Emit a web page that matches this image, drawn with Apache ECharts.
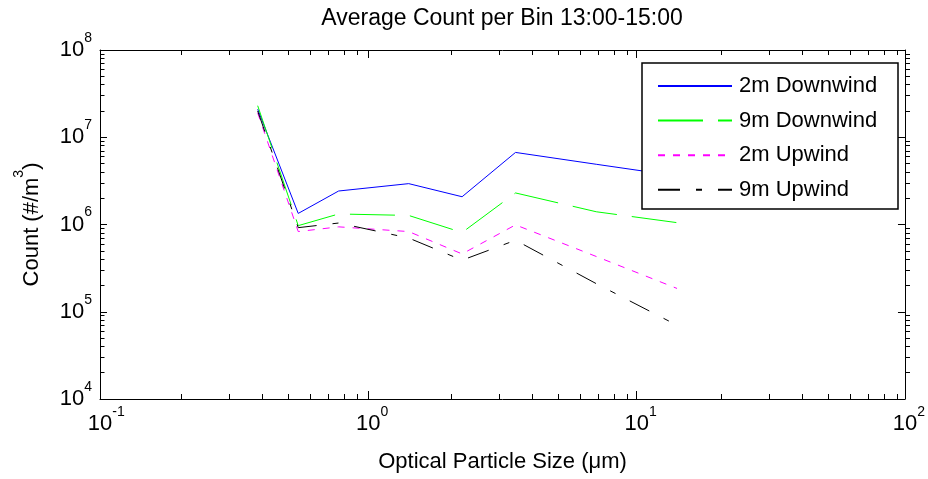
<!DOCTYPE html>
<html><head><meta charset="utf-8">
<script src="https://cdn.jsdelivr.net/npm/echarts@6/dist/echarts.min.js"></script>
<style>html,body{margin:0;padding:0;background:#fff}#c{width:928px;height:479px}</style>
</head><body><div id="c"></div>
<script>
const titleText = 'Average Count per Bin 13:00-15:00';
const xAxisName = 'Optical Particle Size (μm)';
const yAxisNameParts = ['Count (#/m', '3', ')'];
const seriesNames = ['2m Downwind', '9m Downwind', '2m Upwind', '9m Upwind'];
const sizes = [0.387, 0.548, 0.775, 1.414, 2.236, 3.536, 7.07, 14.14];
const down2m = [2.1e7, 1.34e6, 2.42e6, 2.94e6, 2.08e6, 6.7e6, 4.9e6, 3.6e6];
const down9m = [2.3e7, 9.7e5, 1.32e6, 1.27e6, 8.1e5, 2.3e6, 1.4e6, 1.05e6];
const up2m = [1.9e7, 8.3e5, 9.4e5, 8.3e5, 4.6e5, 9.9e5, 4.3e5, 1.85e5];
const up9m = [2.0e7, 9.2e5, 1.04e6, 7.0e5, 3.9e5, 6.6e5, 2.1e5, 7.0e4];
const xMajorTicks = [0.1, 1, 10, 100];
const yMajorTicks = [1e4, 1e5, 1e6, 1e7, 1e8];
const xMinorTicks = [0.2, 0.3, 0.4, 0.5, 0.6, 0.7, 0.8, 0.9,
  2, 3, 4, 5, 6, 7, 8, 9,
  20, 30, 40, 50, 60, 70, 80, 90];
const yMinorTicks = [2e4, 3e4, 4e4, 5e4, 6e4, 7e4, 8e4, 9e4,
  2e5, 3e5, 4e5, 5e5, 6e5, 7e5, 8e5, 9e5,
  2e6, 3e6, 4e6, 5e6, 6e6, 7e6, 8e6, 9e6,
  2e7, 3e7, 4e7, 5e7, 6e7, 7e7, 8e7, 9e7];

const FONT = "'Liberation Sans', Arial, Helvetica, sans-serif";
const colors = ['#0000ff', '#00ff00', '#ff00ff', '#000000'];
const dashes = ['solid', [45, 15], [7, 8], [22, 16, 6, 16]];
const values = [down2m, down9m, up2m, up9m];

const gridBox = { left: 100, top: 50, width: 810, height: 349, containLabel: false };
const exp = v => String(Math.round(Math.log10(v)));
const richLabel = {
  p: { fontSize: 14, fontFamily: FONT, color: 'rgba(0,0,0,0)' },
  b: { fontSize: 22, fontFamily: FONT, color: '#000' },
  s: { fontSize: 14, fontFamily: FONT, color: '#000', padding: [0, 0, 24, 0] }
};
const richLabelY = {
  b: { fontSize: 22, fontFamily: FONT, color: '#000' },
  s: { fontSize: 14, fontFamily: FONT, color: '#000', padding: [0, 0, 24, 0] }
};

const baseAxis = (extra) => Object.assign({
  type: 'log', logBase: 10,
  splitLine: { show: false },
  axisLine: { show: true, lineStyle: { color: '#000', width: 1 } },
  axisTick: { show: true, inside: true, length: 8, lineStyle: { color: '#000', width: 1 } },
  axisLabel: { show: false }
}, extra);

const chart = echarts.init(document.getElementById('c'), null, { renderer: 'canvas' });
chart.setOption({
  animation: false,
  backgroundColor: '#fff',
  title: {
    text: titleText, left: 502, top: 7, textAlign: 'center', padding: 0,
    textStyle: { fontFamily: FONT, fontSize: 23, fontWeight: 'normal', color: '#000' }
  },
  grid: [Object.assign({}, gridBox), Object.assign({}, gridBox)],
  xAxis: [
    baseAxis({
      gridIndex: 0, position: 'bottom', min: 0.1, max: 100,
      name: xAxisName, nameLocation: 'middle', nameGap: 52,
      nameTextStyle: { fontFamily: FONT, fontSize: 22, color: '#000' },
      axisTick: { show: true, inside: true, length: 8, customValues: xMajorTicks, lineStyle: { color: '#000', width: 1 } },
      axisLabel: { show: true, margin: 6, customValues: xMajorTicks, rich: richLabel,
        formatter: v => '{p|' + exp(v) + '}{b|10}{s|' + exp(v) + '}' }
    }),
    baseAxis({
      gridIndex: 0, position: 'top', min: 0.1, max: 100,
      axisTick: { show: true, inside: true, length: 8, customValues: xMajorTicks, lineStyle: { color: '#000', width: 1 } }
    }),
    baseAxis({
      gridIndex: 1, position: 'bottom', min: 0.1, max: 100,
      axisLine: { show: false },
      axisTick: { show: true, inside: true, length: 5, customValues: xMinorTicks, lineStyle: { color: '#000', width: 1 } }
    }),
    baseAxis({
      gridIndex: 1, position: 'top', min: 0.1, max: 100,
      axisLine: { show: false },
      axisTick: { show: true, inside: true, length: 5, customValues: xMinorTicks, lineStyle: { color: '#000', width: 1 } }
    })
  ],
  yAxis: [
    baseAxis({
      gridIndex: 0, position: 'left', min: 1e4, max: 1e8,
      name: '{a|' + yAxisNameParts[0] + '}{s|' + yAxisNameParts[1] + '}{a|' + yAxisNameParts[2] + '}',
      nameLocation: 'middle', nameGap: 48,
      nameTextStyle: { rich: {
        a: { fontFamily: FONT, fontSize: 22, color: '#000' },
        s: { fontFamily: FONT, fontSize: 14, color: '#000', padding: [0, 0, 26, 0] }
      } },
      axisTick: { show: true, inside: true, length: 7, customValues: yMajorTicks, lineStyle: { color: '#000', width: 1 } },
      axisLabel: { show: true, margin: 8, customValues: yMajorTicks, rich: richLabelY,
        formatter: v => '{b|10}{s|' + exp(v) + '}' }
    }),
    baseAxis({
      gridIndex: 0, position: 'right', min: 1e4, max: 1e8,
      axisTick: { show: true, inside: true, length: 7, customValues: yMajorTicks, lineStyle: { color: '#000', width: 1 } }
    }),
    baseAxis({
      gridIndex: 1, position: 'left', min: 1e4, max: 1e8,
      axisLine: { show: false },
      axisTick: { show: true, inside: true, length: 4.5, customValues: yMinorTicks, lineStyle: { color: '#000', width: 1 } }
    }),
    baseAxis({
      gridIndex: 1, position: 'right', min: 1e4, max: 1e8,
      axisLine: { show: false },
      axisTick: { show: true, inside: true, length: 4.5, customValues: yMinorTicks, lineStyle: { color: '#000', width: 1 } }
    })
  ],
  legend: {
    orient: 'vertical', left: 657, top: 75, padding: 0, z: 100,
    itemWidth: 74, itemHeight: 14, itemGap: 12.6,
    itemStyle: { opacity: 0 },
    textStyle: { fontFamily: FONT, fontSize: 22, color: '#000', lineHeight: 22, padding: [0, 0, 0, 2] },
    data: seriesNames
  },
  graphic: [{
    type: 'rect', z: 50, zlevel: 0,
    shape: { x: 642, y: 63, width: 256, height: 146 },
    style: { fill: '#fff', stroke: '#000', lineWidth: 1.5 }
  }],
  series: seriesNames.map((name, i) => ({
    name, type: 'line', xAxisIndex: 0, yAxisIndex: 0,
    symbol: 'none', silent: true,
    data: sizes.map((s, j) => [s, values[i][j]]),
    itemStyle: { color: colors[i] },
    lineStyle: { color: colors[i], width: 1, type: dashes[i] }
  }))
});
</script></body></html>
